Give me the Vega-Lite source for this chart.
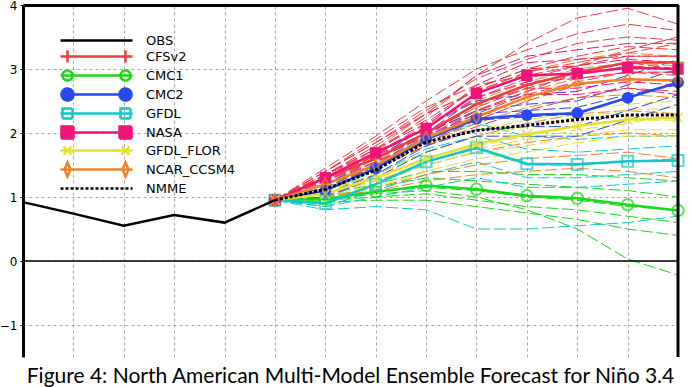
{
"$schema":"https://vega.github.io/schema/vega-lite/v6.json",
"width":655,"height":352,"autosize":"none",
"padding":{"left":23,"top":5,"right":15,"bottom":30},
"config":{"view":{"stroke":null},"font":"DejaVu Sans"},
"title":{"text":"Figure 4: North American Multi-Model Ensemble Forecast for Niño 3.4","orient":"bottom","anchor":"middle","font":"Lato","fontSize":21,"fontWeight":"normal","color":"#000","offset":7},
"datasets":{
"avg":[
{"m":"OBS","t":0,"v":0.92},{"m":"OBS","t":1,"v":0.74},{"m":"OBS","t":2,"v":0.55},{"m":"OBS","t":3,"v":0.72},{"m":"OBS","t":4,"v":0.6},{"m":"OBS","t":5,"v":0.95},
{"m":"CFSv2","t":5,"v":0.95},{"m":"CFSv2","t":6,"v":1.3},{"m":"CFSv2","t":7,"v":1.6},{"m":"CFSv2","t":8,"v":2.0},{"m":"CFSv2","t":9,"v":2.45},{"m":"CFSv2","t":10,"v":2.75},{"m":"CFSv2","t":11,"v":2.95},{"m":"CFSv2","t":12,"v":3.1},{"m":"CFSv2","t":13,"v":3.1},
{"m":"CMC1","t":5,"v":0.95},{"m":"CMC1","t":6,"v":0.97},{"m":"CMC1","t":7,"v":1.08},{"m":"CMC1","t":8,"v":1.18},{"m":"CMC1","t":9,"v":1.12},{"m":"CMC1","t":10,"v":1.02},{"m":"CMC1","t":11,"v":0.98},{"m":"CMC1","t":12,"v":0.88},{"m":"CMC1","t":13,"v":0.79},
{"m":"CMC2","t":5,"v":0.95},{"m":"CMC2","t":6,"v":1.1},{"m":"CMC2","t":7,"v":1.45},{"m":"CMC2","t":8,"v":1.9},{"m":"CMC2","t":9,"v":2.22},{"m":"CMC2","t":10,"v":2.28},{"m":"CMC2","t":11,"v":2.31},{"m":"CMC2","t":12,"v":2.55},{"m":"CMC2","t":13,"v":2.79},
{"m":"GFDL","t":5,"v":0.95},{"m":"GFDL","t":6,"v":0.9},{"m":"GFDL","t":7,"v":1.2},{"m":"GFDL","t":8,"v":1.55},{"m":"GFDL","t":9,"v":1.77},{"m":"GFDL","t":10,"v":1.52},{"m":"GFDL","t":11,"v":1.51},{"m":"GFDL","t":12,"v":1.56},{"m":"GFDL","t":13,"v":1.57},
{"m":"NASA","t":5,"v":0.95},{"m":"NASA","t":6,"v":1.3},{"m":"NASA","t":7,"v":1.69},{"m":"NASA","t":8,"v":2.07},{"m":"NASA","t":9,"v":2.62},{"m":"NASA","t":10,"v":2.9},{"m":"NASA","t":11,"v":2.93},{"m":"NASA","t":12,"v":3.02},{"m":"NASA","t":13,"v":3.0},
{"m":"GFDL_FLOR","t":5,"v":0.95},{"m":"GFDL_FLOR","t":6,"v":1.05},{"m":"GFDL_FLOR","t":7,"v":1.3},{"m":"GFDL_FLOR","t":8,"v":1.6},{"m":"GFDL_FLOR","t":9,"v":1.83},{"m":"GFDL_FLOR","t":10,"v":1.98},{"m":"GFDL_FLOR","t":11,"v":2.11},{"m":"GFDL_FLOR","t":12,"v":2.21},{"m":"GFDL_FLOR","t":13,"v":2.24},
{"m":"NCAR_CCSM4","t":5,"v":0.95},{"m":"NCAR_CCSM4","t":6,"v":1.2},{"m":"NCAR_CCSM4","t":7,"v":1.5},{"m":"NCAR_CCSM4","t":8,"v":1.92},{"m":"NCAR_CCSM4","t":9,"v":2.25},{"m":"NCAR_CCSM4","t":10,"v":2.56},{"m":"NCAR_CCSM4","t":11,"v":2.77},{"m":"NCAR_CCSM4","t":12,"v":2.84},{"m":"NCAR_CCSM4","t":13,"v":2.82},
{"m":"NMME","t":5,"v":0.95},{"m":"NMME","t":6,"v":1.12},{"m":"NMME","t":7,"v":1.42},{"m":"NMME","t":8,"v":1.86},{"m":"NMME","t":9,"v":2.04},{"m":"NMME","t":10,"v":2.12},{"m":"NMME","t":11,"v":2.21},{"m":"NMME","t":12,"v":2.28},{"m":"NMME","t":13,"v":2.28}
],
"mem":[
{"m":"CMC1","e":1,"t":5,"v":0.95},{"m":"CMC1","e":1,"t":6,"v":1.05},{"m":"CMC1","e":1,"t":7,"v":1.2},{"m":"CMC1","e":1,"t":8,"v":1.4},{"m":"CMC1","e":1,"t":9,"v":1.4},{"m":"CMC1","e":1,"t":10,"v":1.35},{"m":"CMC1","e":1,"t":11,"v":1.35},{"m":"CMC1","e":1,"t":12,"v":1.3},{"m":"CMC1","e":1,"t":13,"v":1.25},
{"m":"CMC1","e":2,"t":5,"v":0.95},{"m":"CMC1","e":2,"t":6,"v":1.0},{"m":"CMC1","e":2,"t":7,"v":1.15},{"m":"CMC1","e":2,"t":8,"v":1.3},{"m":"CMC1","e":2,"t":9,"v":1.25},{"m":"CMC1","e":2,"t":10,"v":1.2},{"m":"CMC1","e":2,"t":11,"v":1.15},{"m":"CMC1","e":2,"t":12,"v":1.1},{"m":"CMC1","e":2,"t":13,"v":1.0},
{"m":"CMC1","e":3,"t":5,"v":0.95},{"m":"CMC1","e":3,"t":6,"v":0.98},{"m":"CMC1","e":3,"t":7,"v":1.08},{"m":"CMC1","e":3,"t":8,"v":1.15},{"m":"CMC1","e":3,"t":9,"v":1.1},{"m":"CMC1","e":3,"t":10,"v":1.0},{"m":"CMC1","e":3,"t":11,"v":0.95},{"m":"CMC1","e":3,"t":12,"v":0.85},{"m":"CMC1","e":3,"t":13,"v":0.8},
{"m":"CMC1","e":4,"t":5,"v":0.95},{"m":"CMC1","e":4,"t":6,"v":0.95},{"m":"CMC1","e":4,"t":7,"v":1.0},{"m":"CMC1","e":4,"t":8,"v":1.05},{"m":"CMC1","e":4,"t":9,"v":0.95},{"m":"CMC1","e":4,"t":10,"v":0.85},{"m":"CMC1","e":4,"t":11,"v":0.8},{"m":"CMC1","e":4,"t":12,"v":0.7},{"m":"CMC1","e":4,"t":13,"v":0.6},
{"m":"CMC1","e":5,"t":5,"v":0.95},{"m":"CMC1","e":5,"t":6,"v":0.92},{"m":"CMC1","e":5,"t":7,"v":0.95},{"m":"CMC1","e":5,"t":8,"v":0.95},{"m":"CMC1","e":5,"t":9,"v":0.85},{"m":"CMC1","e":5,"t":10,"v":0.75},{"m":"CMC1","e":5,"t":11,"v":0.65},{"m":"CMC1","e":5,"t":12,"v":0.5},{"m":"CMC1","e":5,"t":13,"v":0.4},
{"m":"CMC1","e":6,"t":5,"v":0.95},{"m":"CMC1","e":6,"t":6,"v":0.95},{"m":"CMC1","e":6,"t":7,"v":1.05},{"m":"CMC1","e":6,"t":8,"v":1.1},{"m":"CMC1","e":6,"t":9,"v":1.0},{"m":"CMC1","e":6,"t":10,"v":0.8},{"m":"CMC1","e":6,"t":11,"v":0.5},{"m":"CMC1","e":6,"t":12,"v":0.03},{"m":"CMC1","e":6,"t":13,"v":-0.22},
{"m":"GFDL","e":1,"t":5,"v":0.95},{"m":"GFDL","e":1,"t":6,"v":1.0},{"m":"GFDL","e":1,"t":7,"v":1.45},{"m":"GFDL","e":1,"t":8,"v":1.9},{"m":"GFDL","e":1,"t":9,"v":2.15},{"m":"GFDL","e":1,"t":10,"v":1.95},{"m":"GFDL","e":1,"t":11,"v":1.9},{"m":"GFDL","e":1,"t":12,"v":1.95},{"m":"GFDL","e":1,"t":13,"v":1.95},
{"m":"GFDL","e":2,"t":5,"v":0.95},{"m":"GFDL","e":2,"t":6,"v":0.95},{"m":"GFDL","e":2,"t":7,"v":1.35},{"m":"GFDL","e":2,"t":8,"v":1.75},{"m":"GFDL","e":2,"t":9,"v":1.95},{"m":"GFDL","e":2,"t":10,"v":1.75},{"m":"GFDL","e":2,"t":11,"v":1.7},{"m":"GFDL","e":2,"t":12,"v":1.75},{"m":"GFDL","e":2,"t":13,"v":1.8},
{"m":"GFDL","e":3,"t":5,"v":0.95},{"m":"GFDL","e":3,"t":6,"v":0.9},{"m":"GFDL","e":3,"t":7,"v":1.2},{"m":"GFDL","e":3,"t":8,"v":1.55},{"m":"GFDL","e":3,"t":9,"v":1.75},{"m":"GFDL","e":3,"t":10,"v":1.5},{"m":"GFDL","e":3,"t":11,"v":1.5},{"m":"GFDL","e":3,"t":12,"v":1.55},{"m":"GFDL","e":3,"t":13,"v":1.6},
{"m":"GFDL","e":4,"t":5,"v":0.95},{"m":"GFDL","e":4,"t":6,"v":0.85},{"m":"GFDL","e":4,"t":7,"v":1.1},{"m":"GFDL","e":4,"t":8,"v":1.35},{"m":"GFDL","e":4,"t":9,"v":1.55},{"m":"GFDL","e":4,"t":10,"v":1.3},{"m":"GFDL","e":4,"t":11,"v":1.3},{"m":"GFDL","e":4,"t":12,"v":1.35},{"m":"GFDL","e":4,"t":13,"v":1.4},
{"m":"GFDL","e":5,"t":5,"v":0.95},{"m":"GFDL","e":5,"t":6,"v":0.85},{"m":"GFDL","e":5,"t":7,"v":1.0},{"m":"GFDL","e":5,"t":8,"v":1.15},{"m":"GFDL","e":5,"t":9,"v":1.3},{"m":"GFDL","e":5,"t":10,"v":1.15},{"m":"GFDL","e":5,"t":11,"v":1.15},{"m":"GFDL","e":5,"t":12,"v":1.2},{"m":"GFDL","e":5,"t":13,"v":1.25},
{"m":"GFDL","e":6,"t":5,"v":0.95},{"m":"GFDL","e":6,"t":6,"v":0.8},{"m":"GFDL","e":6,"t":7,"v":0.85},{"m":"GFDL","e":6,"t":8,"v":0.8},{"m":"GFDL","e":6,"t":9,"v":0.5},{"m":"GFDL","e":6,"t":10,"v":0.5},{"m":"GFDL","e":6,"t":11,"v":0.55},{"m":"GFDL","e":6,"t":12,"v":0.6},{"m":"GFDL","e":6,"t":13,"v":0.7},
{"m":"NCAR_CCSM4","e":1,"t":5,"v":0.95},{"m":"NCAR_CCSM4","e":1,"t":6,"v":1.3},{"m":"NCAR_CCSM4","e":1,"t":7,"v":1.75},{"m":"NCAR_CCSM4","e":1,"t":8,"v":2.3},{"m":"NCAR_CCSM4","e":1,"t":9,"v":2.65},{"m":"NCAR_CCSM4","e":1,"t":10,"v":2.95},{"m":"NCAR_CCSM4","e":1,"t":11,"v":3.15},{"m":"NCAR_CCSM4","e":1,"t":12,"v":3.25},{"m":"NCAR_CCSM4","e":1,"t":13,"v":3.2},
{"m":"NCAR_CCSM4","e":2,"t":5,"v":0.95},{"m":"NCAR_CCSM4","e":2,"t":6,"v":1.25},{"m":"NCAR_CCSM4","e":2,"t":7,"v":1.65},{"m":"NCAR_CCSM4","e":2,"t":8,"v":2.15},{"m":"NCAR_CCSM4","e":2,"t":9,"v":2.5},{"m":"NCAR_CCSM4","e":2,"t":10,"v":2.8},{"m":"NCAR_CCSM4","e":2,"t":11,"v":3.0},{"m":"NCAR_CCSM4","e":2,"t":12,"v":3.1},{"m":"NCAR_CCSM4","e":2,"t":13,"v":3.05},
{"m":"NCAR_CCSM4","e":3,"t":5,"v":0.95},{"m":"NCAR_CCSM4","e":3,"t":6,"v":1.2},{"m":"NCAR_CCSM4","e":3,"t":7,"v":1.55},{"m":"NCAR_CCSM4","e":3,"t":8,"v":2.0},{"m":"NCAR_CCSM4","e":3,"t":9,"v":2.35},{"m":"NCAR_CCSM4","e":3,"t":10,"v":2.65},{"m":"NCAR_CCSM4","e":3,"t":11,"v":2.85},{"m":"NCAR_CCSM4","e":3,"t":12,"v":2.95},{"m":"NCAR_CCSM4","e":3,"t":13,"v":2.95},
{"m":"NCAR_CCSM4","e":4,"t":5,"v":0.95},{"m":"NCAR_CCSM4","e":4,"t":6,"v":1.15},{"m":"NCAR_CCSM4","e":4,"t":7,"v":1.45},{"m":"NCAR_CCSM4","e":4,"t":8,"v":1.85},{"m":"NCAR_CCSM4","e":4,"t":9,"v":2.15},{"m":"NCAR_CCSM4","e":4,"t":10,"v":2.4},{"m":"NCAR_CCSM4","e":4,"t":11,"v":2.55},{"m":"NCAR_CCSM4","e":4,"t":12,"v":2.6},{"m":"NCAR_CCSM4","e":4,"t":13,"v":2.55},
{"m":"NCAR_CCSM4","e":5,"t":5,"v":0.95},{"m":"NCAR_CCSM4","e":5,"t":6,"v":1.1},{"m":"NCAR_CCSM4","e":5,"t":7,"v":1.35},{"m":"NCAR_CCSM4","e":5,"t":8,"v":1.7},{"m":"NCAR_CCSM4","e":5,"t":9,"v":1.95},{"m":"NCAR_CCSM4","e":5,"t":10,"v":2.15},{"m":"NCAR_CCSM4","e":5,"t":11,"v":2.3},{"m":"NCAR_CCSM4","e":5,"t":12,"v":2.35},{"m":"NCAR_CCSM4","e":5,"t":13,"v":2.3},
{"m":"NCAR_CCSM4","e":6,"t":5,"v":0.95},{"m":"NCAR_CCSM4","e":6,"t":6,"v":1.05},{"m":"NCAR_CCSM4","e":6,"t":7,"v":1.25},{"m":"NCAR_CCSM4","e":6,"t":8,"v":1.5},{"m":"NCAR_CCSM4","e":6,"t":9,"v":1.7},{"m":"NCAR_CCSM4","e":6,"t":10,"v":1.85},{"m":"NCAR_CCSM4","e":6,"t":11,"v":1.95},{"m":"NCAR_CCSM4","e":6,"t":12,"v":2.0},{"m":"NCAR_CCSM4","e":6,"t":13,"v":1.95},
{"m":"NCAR_CCSM4","e":7,"t":5,"v":0.95},{"m":"NCAR_CCSM4","e":7,"t":6,"v":1.0},{"m":"NCAR_CCSM4","e":7,"t":7,"v":1.15},{"m":"NCAR_CCSM4","e":7,"t":8,"v":1.35},{"m":"NCAR_CCSM4","e":7,"t":9,"v":1.5},{"m":"NCAR_CCSM4","e":7,"t":10,"v":1.6},{"m":"NCAR_CCSM4","e":7,"t":11,"v":1.65},{"m":"NCAR_CCSM4","e":7,"t":12,"v":1.7},{"m":"NCAR_CCSM4","e":7,"t":13,"v":1.6},
{"m":"NCAR_CCSM4","e":8,"t":5,"v":0.95},{"m":"NCAR_CCSM4","e":8,"t":6,"v":1.0},{"m":"NCAR_CCSM4","e":8,"t":7,"v":1.1},{"m":"NCAR_CCSM4","e":8,"t":8,"v":1.25},{"m":"NCAR_CCSM4","e":8,"t":9,"v":1.35},{"m":"NCAR_CCSM4","e":8,"t":10,"v":1.4},{"m":"NCAR_CCSM4","e":8,"t":11,"v":1.45},{"m":"NCAR_CCSM4","e":8,"t":12,"v":1.4},{"m":"NCAR_CCSM4","e":8,"t":13,"v":1.3},
{"m":"GFDL_FLOR","e":1,"t":5,"v":0.95},{"m":"GFDL_FLOR","e":1,"t":6,"v":1.15},{"m":"GFDL_FLOR","e":1,"t":7,"v":1.45},{"m":"GFDL_FLOR","e":1,"t":8,"v":1.8},{"m":"GFDL_FLOR","e":1,"t":9,"v":2.05},{"m":"GFDL_FLOR","e":1,"t":10,"v":2.2},{"m":"GFDL_FLOR","e":1,"t":11,"v":2.35},{"m":"GFDL_FLOR","e":1,"t":12,"v":2.45},{"m":"GFDL_FLOR","e":1,"t":13,"v":2.5},
{"m":"GFDL_FLOR","e":2,"t":5,"v":0.95},{"m":"GFDL_FLOR","e":2,"t":6,"v":1.1},{"m":"GFDL_FLOR","e":2,"t":7,"v":1.35},{"m":"GFDL_FLOR","e":2,"t":8,"v":1.7},{"m":"GFDL_FLOR","e":2,"t":9,"v":1.95},{"m":"GFDL_FLOR","e":2,"t":10,"v":2.1},{"m":"GFDL_FLOR","e":2,"t":11,"v":2.25},{"m":"GFDL_FLOR","e":2,"t":12,"v":2.35},{"m":"GFDL_FLOR","e":2,"t":13,"v":2.4},
{"m":"GFDL_FLOR","e":3,"t":5,"v":0.95},{"m":"GFDL_FLOR","e":3,"t":6,"v":1.05},{"m":"GFDL_FLOR","e":3,"t":7,"v":1.3},{"m":"GFDL_FLOR","e":3,"t":8,"v":1.6},{"m":"GFDL_FLOR","e":3,"t":9,"v":1.8},{"m":"GFDL_FLOR","e":3,"t":10,"v":1.95},{"m":"GFDL_FLOR","e":3,"t":11,"v":2.1},{"m":"GFDL_FLOR","e":3,"t":12,"v":2.2},{"m":"GFDL_FLOR","e":3,"t":13,"v":2.2},
{"m":"GFDL_FLOR","e":4,"t":5,"v":0.95},{"m":"GFDL_FLOR","e":4,"t":6,"v":1.0},{"m":"GFDL_FLOR","e":4,"t":7,"v":1.2},{"m":"GFDL_FLOR","e":4,"t":8,"v":1.5},{"m":"GFDL_FLOR","e":4,"t":9,"v":1.7},{"m":"GFDL_FLOR","e":4,"t":10,"v":1.8},{"m":"GFDL_FLOR","e":4,"t":11,"v":1.95},{"m":"GFDL_FLOR","e":4,"t":12,"v":2.05},{"m":"GFDL_FLOR","e":4,"t":13,"v":2.05},
{"m":"GFDL_FLOR","e":5,"t":5,"v":0.95},{"m":"GFDL_FLOR","e":5,"t":6,"v":0.95},{"m":"GFDL_FLOR","e":5,"t":7,"v":1.15},{"m":"GFDL_FLOR","e":5,"t":8,"v":1.4},{"m":"GFDL_FLOR","e":5,"t":9,"v":1.6},{"m":"GFDL_FLOR","e":5,"t":10,"v":1.7},{"m":"GFDL_FLOR","e":5,"t":11,"v":1.85},{"m":"GFDL_FLOR","e":5,"t":12,"v":1.95},{"m":"GFDL_FLOR","e":5,"t":13,"v":1.95},
{"m":"GFDL_FLOR","e":6,"t":5,"v":0.95},{"m":"GFDL_FLOR","e":6,"t":6,"v":1.05},{"m":"GFDL_FLOR","e":6,"t":7,"v":1.25},{"m":"GFDL_FLOR","e":6,"t":8,"v":1.55},{"m":"GFDL_FLOR","e":6,"t":9,"v":1.75},{"m":"GFDL_FLOR","e":6,"t":10,"v":1.9},{"m":"GFDL_FLOR","e":6,"t":11,"v":2.05},{"m":"GFDL_FLOR","e":6,"t":12,"v":2.15},{"m":"GFDL_FLOR","e":6,"t":13,"v":2.3},
{"m":"CMC2","e":1,"t":5,"v":0.95},{"m":"CMC2","e":1,"t":6,"v":1.2},{"m":"CMC2","e":1,"t":7,"v":1.6},{"m":"CMC2","e":1,"t":8,"v":2.1},{"m":"CMC2","e":1,"t":9,"v":2.5},{"m":"CMC2","e":1,"t":10,"v":2.6},{"m":"CMC2","e":1,"t":11,"v":2.65},{"m":"CMC2","e":1,"t":12,"v":2.9},{"m":"CMC2","e":1,"t":13,"v":3.15},
{"m":"CMC2","e":2,"t":5,"v":0.95},{"m":"CMC2","e":2,"t":6,"v":1.15},{"m":"CMC2","e":2,"t":7,"v":1.5},{"m":"CMC2","e":2,"t":8,"v":2.0},{"m":"CMC2","e":2,"t":9,"v":2.35},{"m":"CMC2","e":2,"t":10,"v":2.45},{"m":"CMC2","e":2,"t":11,"v":2.5},{"m":"CMC2","e":2,"t":12,"v":2.75},{"m":"CMC2","e":2,"t":13,"v":3.0},
{"m":"CMC2","e":3,"t":5,"v":0.95},{"m":"CMC2","e":3,"t":6,"v":1.1},{"m":"CMC2","e":3,"t":7,"v":1.45},{"m":"CMC2","e":3,"t":8,"v":1.9},{"m":"CMC2","e":3,"t":9,"v":2.2},{"m":"CMC2","e":3,"t":10,"v":2.25},{"m":"CMC2","e":3,"t":11,"v":2.3},{"m":"CMC2","e":3,"t":12,"v":2.55},{"m":"CMC2","e":3,"t":13,"v":2.8},
{"m":"CMC2","e":4,"t":5,"v":0.95},{"m":"CMC2","e":4,"t":6,"v":1.05},{"m":"CMC2","e":4,"t":7,"v":1.35},{"m":"CMC2","e":4,"t":8,"v":1.8},{"m":"CMC2","e":4,"t":9,"v":2.05},{"m":"CMC2","e":4,"t":10,"v":2.1},{"m":"CMC2","e":4,"t":11,"v":2.1},{"m":"CMC2","e":4,"t":12,"v":2.35},{"m":"CMC2","e":4,"t":13,"v":2.6},
{"m":"CMC2","e":5,"t":5,"v":0.95},{"m":"CMC2","e":5,"t":6,"v":1.0},{"m":"CMC2","e":5,"t":7,"v":1.3},{"m":"CMC2","e":5,"t":8,"v":1.7},{"m":"CMC2","e":5,"t":9,"v":1.95},{"m":"CMC2","e":5,"t":10,"v":1.95},{"m":"CMC2","e":5,"t":11,"v":1.95},{"m":"CMC2","e":5,"t":12,"v":2.2},{"m":"CMC2","e":5,"t":13,"v":2.45},
{"m":"CMC2","e":6,"t":5,"v":0.95},{"m":"CMC2","e":6,"t":6,"v":1.1},{"m":"CMC2","e":6,"t":7,"v":1.5},{"m":"CMC2","e":6,"t":8,"v":1.95},{"m":"CMC2","e":6,"t":9,"v":2.3},{"m":"CMC2","e":6,"t":10,"v":2.35},{"m":"CMC2","e":6,"t":11,"v":2.4},{"m":"CMC2","e":6,"t":12,"v":2.6},{"m":"CMC2","e":6,"t":13,"v":2.75},
{"m":"NASA","e":1,"t":5,"v":0.95},{"m":"NASA","e":1,"t":6,"v":1.4},{"m":"NASA","e":1,"t":7,"v":1.85},{"m":"NASA","e":1,"t":8,"v":2.3},{"m":"NASA","e":1,"t":9,"v":2.9},{"m":"NASA","e":1,"t":10,"v":3.2},{"m":"NASA","e":1,"t":11,"v":3.3},{"m":"NASA","e":1,"t":12,"v":3.4},{"m":"NASA","e":1,"t":13,"v":3.4},
{"m":"NASA","e":2,"t":5,"v":0.95},{"m":"NASA","e":2,"t":6,"v":1.35},{"m":"NASA","e":2,"t":7,"v":1.75},{"m":"NASA","e":2,"t":8,"v":2.15},{"m":"NASA","e":2,"t":9,"v":2.7},{"m":"NASA","e":2,"t":10,"v":3.0},{"m":"NASA","e":2,"t":11,"v":3.05},{"m":"NASA","e":2,"t":12,"v":3.15},{"m":"NASA","e":2,"t":13,"v":3.1},
{"m":"NASA","e":3,"t":5,"v":0.95},{"m":"NASA","e":3,"t":6,"v":1.3},{"m":"NASA","e":3,"t":7,"v":1.65},{"m":"NASA","e":3,"t":8,"v":2.0},{"m":"NASA","e":3,"t":9,"v":2.55},{"m":"NASA","e":3,"t":10,"v":2.8},{"m":"NASA","e":3,"t":11,"v":2.85},{"m":"NASA","e":3,"t":12,"v":2.95},{"m":"NASA","e":3,"t":13,"v":2.95},
{"m":"NASA","e":4,"t":5,"v":0.95},{"m":"NASA","e":4,"t":6,"v":1.25},{"m":"NASA","e":4,"t":7,"v":1.6},{"m":"NASA","e":4,"t":8,"v":1.95},{"m":"NASA","e":4,"t":9,"v":2.45},{"m":"NASA","e":4,"t":10,"v":2.7},{"m":"NASA","e":4,"t":11,"v":2.7},{"m":"NASA","e":4,"t":12,"v":2.8},{"m":"NASA","e":4,"t":13,"v":2.75},
{"m":"NASA","e":5,"t":5,"v":0.95},{"m":"NASA","e":5,"t":6,"v":1.2},{"m":"NASA","e":5,"t":7,"v":1.55},{"m":"NASA","e":5,"t":8,"v":1.9},{"m":"NASA","e":5,"t":9,"v":2.35},{"m":"NASA","e":5,"t":10,"v":2.6},{"m":"NASA","e":5,"t":11,"v":2.6},{"m":"NASA","e":5,"t":12,"v":2.7},{"m":"NASA","e":5,"t":13,"v":2.6},
{"m":"NASA","e":6,"t":5,"v":0.95},{"m":"NASA","e":6,"t":6,"v":1.35},{"m":"NASA","e":6,"t":7,"v":1.7},{"m":"NASA","e":6,"t":8,"v":2.1},{"m":"NASA","e":6,"t":9,"v":2.75},{"m":"NASA","e":6,"t":10,"v":3.1},{"m":"NASA","e":6,"t":11,"v":3.15},{"m":"NASA","e":6,"t":12,"v":3.2},{"m":"NASA","e":6,"t":13,"v":3.2},
{"m":"CFSv2","e":1,"t":5,"v":0.95},{"m":"CFSv2","e":1,"t":6,"v":1.45},{"m":"CFSv2","e":1,"t":7,"v":1.95},{"m":"CFSv2","e":1,"t":8,"v":2.5},{"m":"CFSv2","e":1,"t":9,"v":3.0},{"m":"CFSv2","e":1,"t":10,"v":3.3},{"m":"CFSv2","e":1,"t":11,"v":3.55},{"m":"CFSv2","e":1,"t":12,"v":3.7},{"m":"CFSv2","e":1,"t":13,"v":3.6},
{"m":"CFSv2","e":2,"t":5,"v":0.95},{"m":"CFSv2","e":2,"t":6,"v":1.4},{"m":"CFSv2","e":2,"t":7,"v":1.85},{"m":"CFSv2","e":2,"t":8,"v":2.35},{"m":"CFSv2","e":2,"t":9,"v":2.85},{"m":"CFSv2","e":2,"t":10,"v":3.15},{"m":"CFSv2","e":2,"t":11,"v":3.4},{"m":"CFSv2","e":2,"t":12,"v":3.5},{"m":"CFSv2","e":2,"t":13,"v":3.45},
{"m":"CFSv2","e":3,"t":5,"v":0.95},{"m":"CFSv2","e":3,"t":6,"v":1.35},{"m":"CFSv2","e":3,"t":7,"v":1.75},{"m":"CFSv2","e":3,"t":8,"v":2.2},{"m":"CFSv2","e":3,"t":9,"v":2.7},{"m":"CFSv2","e":3,"t":10,"v":3.0},{"m":"CFSv2","e":3,"t":11,"v":3.2},{"m":"CFSv2","e":3,"t":12,"v":3.35},{"m":"CFSv2","e":3,"t":13,"v":3.3},
{"m":"CFSv2","e":4,"t":5,"v":0.95},{"m":"CFSv2","e":4,"t":6,"v":1.3},{"m":"CFSv2","e":4,"t":7,"v":1.65},{"m":"CFSv2","e":4,"t":8,"v":2.1},{"m":"CFSv2","e":4,"t":9,"v":2.55},{"m":"CFSv2","e":4,"t":10,"v":2.85},{"m":"CFSv2","e":4,"t":11,"v":3.05},{"m":"CFSv2","e":4,"t":12,"v":3.2},{"m":"CFSv2","e":4,"t":13,"v":3.2},
{"m":"CFSv2","e":5,"t":5,"v":0.95},{"m":"CFSv2","e":5,"t":6,"v":1.25},{"m":"CFSv2","e":5,"t":7,"v":1.6},{"m":"CFSv2","e":5,"t":8,"v":2.0},{"m":"CFSv2","e":5,"t":9,"v":2.4},{"m":"CFSv2","e":5,"t":10,"v":2.7},{"m":"CFSv2","e":5,"t":11,"v":2.9},{"m":"CFSv2","e":5,"t":12,"v":3.05},{"m":"CFSv2","e":5,"t":13,"v":3.0},
{"m":"CFSv2","e":6,"t":5,"v":0.95},{"m":"CFSv2","e":6,"t":6,"v":1.2},{"m":"CFSv2","e":6,"t":7,"v":1.5},{"m":"CFSv2","e":6,"t":8,"v":1.9},{"m":"CFSv2","e":6,"t":9,"v":2.3},{"m":"CFSv2","e":6,"t":10,"v":2.6},{"m":"CFSv2","e":6,"t":11,"v":2.8},{"m":"CFSv2","e":6,"t":12,"v":2.95},{"m":"CFSv2","e":6,"t":13,"v":2.9},
{"m":"CFSv2","e":7,"t":5,"v":0.95},{"m":"CFSv2","e":7,"t":6,"v":1.3},{"m":"CFSv2","e":7,"t":7,"v":1.7},{"m":"CFSv2","e":7,"t":8,"v":2.25},{"m":"CFSv2","e":7,"t":9,"v":2.9},{"m":"CFSv2","e":7,"t":10,"v":3.4},{"m":"CFSv2","e":7,"t":11,"v":3.8},{"m":"CFSv2","e":7,"t":12,"v":3.95},{"m":"CFSv2","e":7,"t":13,"v":3.7},
{"m":"CFSv2","e":8,"t":5,"v":0.95},{"m":"CFSv2","e":8,"t":6,"v":1.25},{"m":"CFSv2","e":8,"t":7,"v":1.55},{"m":"CFSv2","e":8,"t":8,"v":1.85},{"m":"CFSv2","e":8,"t":9,"v":2.2},{"m":"CFSv2","e":8,"t":10,"v":2.5},{"m":"CFSv2","e":8,"t":11,"v":2.75},{"m":"CFSv2","e":8,"t":12,"v":2.85},{"m":"CFSv2","e":8,"t":13,"v":2.8},
{"m":"CFSv2","e":9,"t":5,"v":0.95},{"m":"CFSv2","e":9,"t":6,"v":1.35},{"m":"CFSv2","e":9,"t":7,"v":1.8},{"m":"CFSv2","e":9,"t":8,"v":2.3},{"m":"CFSv2","e":9,"t":9,"v":2.65},{"m":"CFSv2","e":9,"t":10,"v":2.95},{"m":"CFSv2","e":9,"t":11,"v":3.1},{"m":"CFSv2","e":9,"t":12,"v":3.25},{"m":"CFSv2","e":9,"t":13,"v":3.4},
{"m":"CFSv2","e":10,"t":5,"v":0.95},{"m":"CFSv2","e":10,"t":6,"v":1.2},{"m":"CFSv2","e":10,"t":7,"v":1.45},{"m":"CFSv2","e":10,"t":8,"v":1.8},{"m":"CFSv2","e":10,"t":9,"v":2.1},{"m":"CFSv2","e":10,"t":10,"v":2.35},{"m":"CFSv2","e":10,"t":11,"v":2.55},{"m":"CFSv2","e":10,"t":12,"v":2.7},{"m":"CFSv2","e":10,"t":13,"v":2.65},
{"m":"CFSv2","e":11,"t":5,"v":0.95},{"m":"CFSv2","e":11,"t":6,"v":1.4},{"m":"CFSv2","e":11,"t":7,"v":1.9},{"m":"CFSv2","e":11,"t":8,"v":2.4},{"m":"CFSv2","e":11,"t":9,"v":2.75},{"m":"CFSv2","e":11,"t":10,"v":2.9},{"m":"CFSv2","e":11,"t":11,"v":3.05},{"m":"CFSv2","e":11,"t":12,"v":3.3},{"m":"CFSv2","e":11,"t":13,"v":3.5},
{"m":"CFSv2","e":12,"t":5,"v":0.95},{"m":"CFSv2","e":12,"t":6,"v":1.3},{"m":"CFSv2","e":12,"t":7,"v":1.6},{"m":"CFSv2","e":12,"t":8,"v":1.95},{"m":"CFSv2","e":12,"t":9,"v":2.35},{"m":"CFSv2","e":12,"t":10,"v":2.65},{"m":"CFSv2","e":12,"t":11,"v":2.95},{"m":"CFSv2","e":12,"t":12,"v":3.1},{"m":"CFSv2","e":12,"t":13,"v":3.0}
],
"zero":[{"v":0}],
"edge":[{"t":13}]
},
"layer":[
{"data":{"name":"mem"},"mark":{"type":"line","strokeWidth":1,"strokeDash":[12,4],"clip":true},
 "encoding":{
  "x":{"field":"t","type":"quantitative","scale":{"domain":[0,13],"nice":false,"zero":false},
       "axis":{"orient":"top","values":[1,2,3,4,5,6,7,8,9,10,11,12],"labels":false,"ticks":false,"domain":true,"domainColor":"#000","domainWidth":3,"grid":true,"gridColor":"#a8a8a8","gridDash":[3,3],"gridWidth":1,"title":null}},
  "y":{"field":"v","type":"quantitative","scale":{"domain":[-1.5,4],"nice":false,"zero":false},
       "axis":{"orient":"left","values":[-1,0,1,2,3,4],"format":"d","grid":true,"gridColor":"#a8a8a8","gridDash":[3,3],"gridWidth":1,"domainColor":"#000","domainWidth":3,"tickColor":"#000","tickSize":3,"labelFont":"DejaVu Sans","labelFontSize":12,"labelColor":"#000","labelPadding":3,"title":null}},
  "color":{"field":"m","type":"nominal",
    "scale":{"domain":["CFSv2","CMC1","CMC2","GFDL","NASA","GFDL_FLOR","NCAR_CCSM4"],"range":["#f03c3c","#18d818","#2848f0","#10c8c8","#f0147a","#e8e030","#f08228"]},
    "legend":null},
  "detail":{"field":"e"}}},
{"data":{"name":"avg"},"transform":[{"filter":{"field":"m","oneOf":["CFSv2","CMC1","CMC2","GFDL","NASA","GFDL_FLOR","NCAR_CCSM4"]}}],
 "mark":{"type":"line","strokeWidth":2.5},
 "encoding":{"x":{"field":"t","type":"quantitative"},"y":{"field":"v","type":"quantitative"},"color":{"field":"m","type":"nominal","legend":null}}},
{"data":{"name":"avg"},"transform":[{"filter":{"field":"m","equal":"CFSv2"}}],
 "mark":{"type":"point","shape":"M-1,0H1M0,-1V1","filled":false,"strokeWidth":2,"size":150},
 "encoding":{"x":{"field":"t","type":"quantitative"},"y":{"field":"v","type":"quantitative"},"color":{"field":"m","type":"nominal","legend":null}}},
{"data":{"name":"avg"},"transform":[{"filter":{"field":"m","equal":"CMC1"}}],
 "mark":{"type":"point","shape":"circle","filled":false,"strokeWidth":2,"size":130},
 "encoding":{"x":{"field":"t","type":"quantitative"},"y":{"field":"v","type":"quantitative"},"color":{"field":"m","type":"nominal","legend":null}}},
{"data":{"name":"avg"},"transform":[{"filter":{"field":"m","equal":"CMC2"}}],
 "mark":{"type":"point","shape":"circle","filled":true,"size":140,"opacity":1},
 "encoding":{"x":{"field":"t","type":"quantitative"},"y":{"field":"v","type":"quantitative"},"color":{"field":"m","type":"nominal","legend":null}}},
{"data":{"name":"avg"},"transform":[{"filter":{"field":"m","equal":"GFDL"}}],
 "mark":{"type":"point","shape":"square","filled":false,"strokeWidth":2,"size":120},
 "encoding":{"x":{"field":"t","type":"quantitative"},"y":{"field":"v","type":"quantitative"},"color":{"field":"m","type":"nominal","legend":null}}},
{"data":{"name":"avg"},"transform":[{"filter":{"field":"m","equal":"NASA"}}],
 "mark":{"type":"point","shape":"square","filled":true,"size":130,"opacity":1},
 "encoding":{"x":{"field":"t","type":"quantitative"},"y":{"field":"v","type":"quantitative"},"color":{"field":"m","type":"nominal","legend":null}}},
{"data":{"name":"avg"},"transform":[{"filter":{"field":"m","equal":"GFDL_FLOR"}}],
 "mark":{"type":"point","shape":"M-0.8,-0.8L0.8,0.8M-0.8,0.8L0.8,-0.8","filled":false,"strokeWidth":2,"size":150},
 "encoding":{"x":{"field":"t","type":"quantitative"},"y":{"field":"v","type":"quantitative"},"color":{"field":"m","type":"nominal","legend":null}}},
{"data":{"name":"avg"},"transform":[{"filter":{"field":"m","equal":"NCAR_CCSM4"}}],
 "mark":{"type":"point","shape":"M0,-1L0.55,0L0,1L-0.55,0Z","filled":false,"strokeWidth":2,"size":150},
 "encoding":{"x":{"field":"t","type":"quantitative"},"y":{"field":"v","type":"quantitative"},"color":{"field":"m","type":"nominal","legend":null}}},
{"data":{"name":"avg"},"transform":[{"filter":{"field":"m","equal":"NMME"}}],
 "mark":{"type":"line","strokeWidth":3,"strokeDash":[3,2],"color":"#000"},
 "encoding":{"x":{"field":"t","type":"quantitative"},"y":{"field":"v","type":"quantitative"}}},
{"data":{"name":"avg"},"transform":[{"filter":{"field":"m","equal":"OBS"}}],
 "mark":{"type":"line","strokeWidth":2.5,"color":"#000"},
 "encoding":{"x":{"field":"t","type":"quantitative"},"y":{"field":"v","type":"quantitative"}}},
{"data":{"name":"avg"},"transform":[{"filter":"datum.t < 0"}],
 "mark":{"type":"point","filled":false,"strokeWidth":2.5,"opacity":1},
 "encoding":{"x":{"field":"t","type":"quantitative"},"y":{"field":"v","type":"quantitative"},
  "stroke":{"field":"m","type":"nominal",
    "scale":{"domain":["OBS","CFSv2","CMC1","CMC2","GFDL","NASA","GFDL_FLOR","NCAR_CCSM4","NMME"],"range":["#000000","#f03c3c","#18d818","#2848f0","#10c8c8","#f0147a","#e8e030","#f08228","#000000"]},
    "legend":{"orient":"none","legendX":67,"legendY":29,"title":null,"padding":0,"symbolSize":4,"symbolStrokeWidth":2.5,"symbolOpacity":1,"labelFont":"DejaVu Sans","labelFontSize":13,"labelColor":"#000","labelOffset":43,"rowPadding":-3}},
  "fill":{"field":"m","type":"nominal",
    "scale":{"domain":["OBS","CFSv2","CMC1","CMC2","GFDL","NASA","GFDL_FLOR","NCAR_CCSM4","NMME"],"range":["transparent","transparent","transparent","#2848f0","transparent","#f0147a","transparent","transparent","transparent"]},
    "legend":{"orient":"none","legendX":67,"legendY":29,"title":null}},
  "shape":{"field":"m","type":"nominal",
    "scale":{"domain":["OBS","CFSv2","CMC1","CMC2","GFDL","NASA","GFDL_FLOR","NCAR_CCSM4","NMME"],"range":["M-36,0H36","M-36,0H36M-29,-6V6M29,-6V6","M-36,0H36M-34,0a5,5 0 1,0 10,0a5,5 0 1,0 -10,0M24,0a5,5 0 1,0 10,0a5,5 0 1,0 -10,0","M-36,0H36M-35,0a6,6 0 1,0 12,0a6,6 0 1,0 -12,0M23,0a6,6 0 1,0 12,0a6,6 0 1,0 -12,0","M-36,0H36M-34,-5h10v10h-10ZM24,-5h10v10h-10Z","M-36,0H36M-35,-6h12v12h-12ZM23,-6h12v12h-12Z","M-36,0H36M-33,-4L-25,4M-33,4L-25,-4M25,-4L33,4M25,4L33,-4","M-36,0H36M-29,-7L-26,0L-29,7L-32,0ZM29,-7L32,0L29,7L26,0Z","M-36,0H36"]},
    "legend":{"orient":"none","legendX":67,"legendY":29,"title":null}},
  "strokeDash":{"field":"m","type":"nominal",
    "scale":{"domain":["OBS","CFSv2","CMC1","CMC2","GFDL","NASA","GFDL_FLOR","NCAR_CCSM4","NMME"],"range":[[1,0],[1,0],[1,0],[1,0],[1,0],[1,0],[1,0],[1,0],[3,2]]},
    "legend":{"orient":"none","legendX":67,"legendY":29,"title":null}}}},
{"data":{"name":"zero"},"mark":{"type":"rule","color":"#000","strokeWidth":1.5},"encoding":{"y":{"field":"v","type":"quantitative"}}},
{"data":{"name":"edge"},"mark":{"type":"rule","color":"#000","strokeWidth":3},"encoding":{"x":{"field":"t","type":"quantitative"}}}
]
}
